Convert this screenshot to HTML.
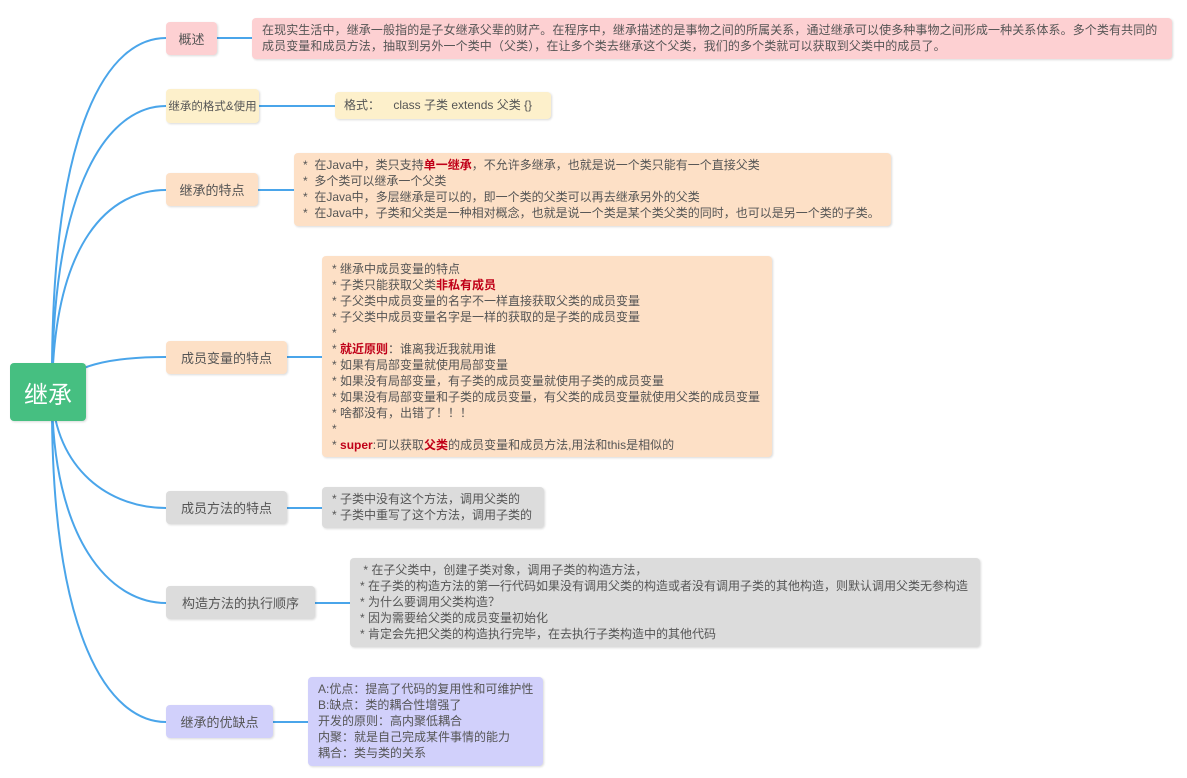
<!DOCTYPE html>
<html><head><meta charset="utf-8"><style>
body{margin:0;width:1187px;height:778px;background:#fff;position:relative;overflow:hidden;font-family:"Liberation Sans","Noto Sans CJK SC",sans-serif;color:#444}
.n{position:absolute;border-radius:4px;box-shadow:1px 1px 2px rgba(0,0,0,.15);font-size:13px;display:flex;align-items:center;justify-content:center;color:#555;white-space:nowrap}
.b{position:absolute;border-radius:4px;box-shadow:1px 1px 2px rgba(0,0,0,.15);font-size:12px;line-height:16px;color:#555;box-sizing:border-box;white-space:nowrap}
.r{color:#c00018;font-weight:bold}
.pink{background:#fdd0d2}.yel{background:#fdf0cb}.pea{background:#fde0c6}.gr{background:#dcdcdc}.lav{background:#d1d0fb}
</style></head><body>
<svg width="1187" height="778" style="position:absolute;left:0;top:0">
<g fill="none" stroke="#4aa5ea" stroke-width="2">
<path d="M52 392 C50 120 110 38 166 38"/>
<path d="M52 392 C52 180 110 106 166 106"/>
<path d="M52 392 C54 240 110 190 166 190"/>
<path d="M52 392 C70 365 110 357 166 357"/>
<path d="M52 392 C55 470 110 508 166 508"/>
<path d="M52 392 C52 540 110 603 166 603"/>
<path d="M52 392 C50 640 110 722 166 722"/>
<path d="M217 38H252M259 106H335M258 190H294M287 357H322M287 508H322M315 603H350M273 722H308"/>
</g></svg>
<div class="n" style="left:10px;top:363px;width:76px;height:58px;background:#46bf81;color:#fff;font-size:24px">继承</div>
<div class="n pink" style="left:166px;top:22px;width:51px;height:33px">概述</div>
<div class="b pink" style="left:252px;top:18px;width:920px;height:41px;padding:4px 10px;white-space:normal;letter-spacing:0.1px">在现实生活中，继承一般指的是子女继承父辈的财产。在程序中，继承描述的是事物之间的所属关系，通过继承可以使多种事物之间形成一种关系体系。多个类有共同的成员变量和成员方法，抽取到另外一个类中（父类），在让多个类去继承这个父类，我们的多个类就可以获取到父类中的成员了。</div>
<div class="n yel" style="left:166px;top:89px;width:93px;height:34px;font-size:11.5px">继承的格式&amp;使用</div>
<div class="b yel" style="left:335px;top:92px;width:216px;height:27px;padding:5px 9px">格式：&nbsp;&nbsp;&nbsp;&nbsp;class 子类 extends 父类 {}</div>
<div class="n pea" style="left:166px;top:173px;width:92px;height:33px">继承的特点</div>
<div class="b pea" style="left:294px;top:153px;width:597px;height:73px;padding:4px 9px">*&nbsp; 在Java中，类只支持<span class="r">单一继承</span>，不允许多继承，也就是说一个类只能有一个直接父类<br>*&nbsp; 多个类可以继承一个父类<br>*&nbsp; 在Java中，多层继承是可以的，即一个类的父类可以再去继承另外的父类<br>*&nbsp; 在Java中，子类和父类是一种相对概念，也就是说一个类是某个类父类的同时，也可以是另一个类的子类。</div>
<div class="n pea" style="left:166px;top:341px;width:121px;height:33px">成员变量的特点</div>
<div class="b pea" style="left:322px;top:256px;width:450px;height:201px;padding:5px 10px">* 继承中成员变量的特点<br>* 子类只能获取父类<span class="r">非私有成员</span><br>* 子父类中成员变量的名字不一样直接获取父类的成员变量<br>* 子父类中成员变量名字是一样的获取的是子类的成员变量<br>*<br>* <span class="r">就近原则</span>：谁离我近我就用谁<br>* 如果有局部变量就使用局部变量<br>* 如果没有局部变量，有子类的成员变量就使用子类的成员变量<br>* 如果没有局部变量和子类的成员变量，有父类的成员变量就使用父类的成员变量<br>* 啥都没有，出错了！！！<br>*<br>* <span class="r">super</span>:可以获取<span class="r">父类</span>的成员变量和成员方法,用法和this是相似的</div>
<div class="n gr" style="left:166px;top:491px;width:121px;height:33px">成员方法的特点</div>
<div class="b gr" style="left:322px;top:487px;width:222px;height:41px;padding:4px 10px">* 子类中没有这个方法，调用父类的<br>* 子类中重写了这个方法，调用子类的</div>
<div class="n gr" style="left:166px;top:586px;width:149px;height:33px">构造方法的执行顺序</div>
<div class="b gr" style="left:350px;top:558px;width:630px;height:89px;padding:4px 10px">&nbsp;* 在子父类中，创建子类对象，调用子类的构造方法，<br>* 在子类的构造方法的第一行代码如果没有调用父类的构造或者没有调用子类的其他构造，则默认调用父类无参构造<br>* 为什么要调用父类构造？<br>* 因为需要给父类的成员变量初始化<br>* 肯定会先把父类的构造执行完毕，在去执行子类构造中的其他代码</div>
<div class="n lav" style="left:166px;top:705px;width:107px;height:33px">继承的优缺点</div>
<div class="b lav" style="left:308px;top:677px;width:235px;height:89px;padding:4px 10px">A:优点：提高了代码的复用性和可维护性<br>B:缺点：类的耦合性增强了<br>开发的原则：高内聚低耦合<br>内聚：就是自己完成某件事情的能力<br>耦合：类与类的关系</div>
</body></html>
